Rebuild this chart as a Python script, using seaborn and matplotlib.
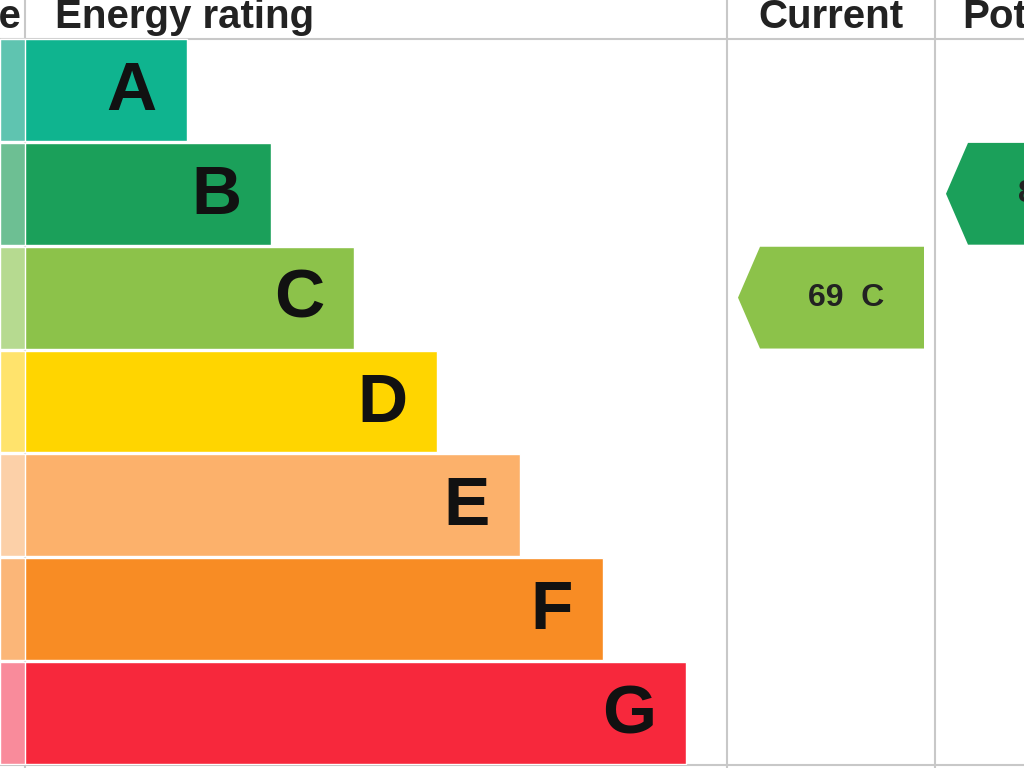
import matplotlib
matplotlib.use("Agg")
import matplotlib.pyplot as plt
import seaborn as sns
import pandas as pd
from matplotlib.patches import Polygon

# energy bands, bar right ends in pixel units of the canvas
bands = ["A", "B", "C", "D", "E", "F", "G"]
band_ends = [187, 271, 354, 437, 520, 603, 686]
band_colors = ["#0fb48f", "#1ba05a", "#8cc24a", "#ffd500", "#fcb16b", "#f88c24", "#f7283c"]
strip_colors = ["#5fc4b0", "#6dbf93", "#b6da90", "#ffe36c", "#fcd0a8", "#fbb678", "#f98b9b"]

current_value, current_band = 69, "C"
potential_value, potential_band = 84, "B"

sns.set_theme(style="white")
plt.rcParams["font.family"] = ["Liberation Sans", "DejaVu Sans"]

fig = plt.figure(figsize=(10.24, 7.68), dpi=100)
fig.patch.set_facecolor("white")

# full-canvas axes for header text and grid lines
bg = fig.add_axes([0, 0, 1, 1])
bg.set_xlim(0, 1024)
bg.set_ylim(768, 0)
bg.axis("off")
grid = "#c8c8c8"
bg.plot([0, 1024], [38.5, 38.5], color=grid, lw=1.5)
bg.plot([0, 1024], [765, 765], color=grid, lw=1.5)
for x in [25, 727, 935]:
    bg.plot([x, x], [0, 768], color=grid, lw=1.5)
hdr = dict(va="center", fontsize=29, fontweight="bold", color="#222222")
bg.text(22, 17, "Score", ha="right", **hdr)
bg.text(55, 17, "Energy rating", ha="left", **hdr)
bg.text(831, 17, "Current", ha="center", **hdr)
bg.text(962, 17, "Potential", ha="left", **hdr)

# bars axes, one category per row
ax = fig.add_axes([0, 3 / 768, 1, 727 / 768])
df = pd.DataFrame({"band": bands, "end": band_ends})
sns.barplot(data=df, x="end", y="band", hue="band", palette=band_colors,
            legend=False, width=0.98, ax=ax, saturation=1)
ax.set_xlim(0, 1024)
ax.set_ylim(6.5, -0.5)
ax.axis("off")
ax.patch.set_alpha(0)

for i, (b, end, sc) in enumerate(zip(bands, band_ends, strip_colors)):
    ax.barh(i, 25, height=0.98, color=sc)
    ax.text(end - 30, i + 0.02, b, ha="right", va="center", fontsize=50,
            fontweight="bold", color="#111111")

def arrow(row, x_tip, x_end, text, color, tx):
    h = 0.49
    poly = Polygon([(x_tip, row), (x_tip + 22, row - h), (x_end, row - h),
                    (x_end, row + h), (x_tip + 22, row + h)], closed=True,
                   facecolor=color, edgecolor="none")
    ax.add_patch(poly)
    ax.text(tx, row, text, ha="center", va="center", fontsize=23,
            fontweight="bold", color="#222222", clip_on=True)

ci = bands.index(current_band)
arrow(ci, 738, 924, f"{current_value}  {current_band}", band_colors[ci], 846)
pi = bands.index(potential_band)
arrow(pi, 946, 1130, f"{potential_value}  {potential_band}", band_colors[pi], 1056)

fig.savefig("out.png", dpi=100)
